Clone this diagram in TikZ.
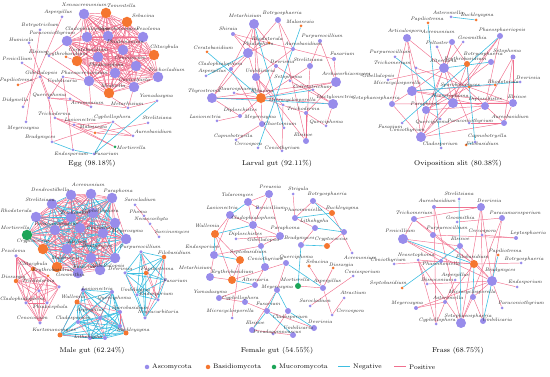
\documentclass[tikz,border=0pt]{standalone}
\usepackage{tikz}

\pgfdeclarelayer{edges}
\pgfsetlayers{edges,main}

\definecolor{asco}{RGB}{152,140,235}
\definecolor{basi}{RGB}{245,118,48}
\definecolor{muco}{RGB}{28,165,88}
\definecolor{negc}{RGB}{62,190,225}
\definecolor{posc}{RGB}{240,112,142}

\tikzset{
    taxon/.style={circle,inner sep=0pt,minimum size=#1},
    taxlab/.style={font=\fontsize{5}{5.5}\selectfont\itshape,inner sep=0pt,text=black!85},
    poslink/.style={posc,line width=0.45pt},
    neglink/.style={negc,line width=0.6pt},
    paneltitle/.style={font=\fontsize{7}{8}\selectfont,inner sep=0pt},
    legtext/.style={font=\fontsize{6.6}{8}\selectfont,anchor=west,inner sep=0pt},
}

\begin{document}
\begin{tikzpicture}[x=1pt,y=-1pt]
    \useasboundingbox (0,0) rectangle (550,377);

    % Egg
    \foreach \n/\c/\d/\x/\y/\lx/\ly/\t in {
        e1/asco/10.5/84/14/84/5/Xenoacremonium,
        e2/basi/10.5/106/13/121/6/Tomentella,
        e3/basi/10.5/127/22/143/16/Sebacina,
        e4/asco/10.5/67/41/52/33/Paraconiothyrium,
        e5/asco/10.5/87/37/87/29/Cladophialophora,
        e6/asco/10.5/108/36/119/29/Sporobolomyces,
        e7/asco/10.5/143/37/148/29/Pezoloma,
        e8/asco/10.5/123/50/125/42/Phialemonium,
        e9/basi/10.5/154/55/164/47/Clitocybula,
        e10/basi/10.5/77/61/88/50/Ceratobasidium,
        e12/asco/10.5/136/66/130/58/Cenococcum,
        e13/asco/10.5/115/73/106/65/Phialocephala,
        e14/asco/10.5/158/77/166/70/Trichocladium,
        e15/asco/10.5/89/81/84/73/Phaeoacremonium,
        e16/asco/10.5/134/87/134/80/Coniochaeta,
        e17/basi/10.5/109/93/113/86/Mrakiella,
        e18/asco/3/62/17/58/12/Aspergillus,
        e19/asco/3/40/30/40/25/Botryotrichum,
        e20/asco/3/29/43/21/40/Humicola,
        e21/asco/3/22/63/17/59/Penicillium,
        e22/asco/3/49/56/38/52/Elsinoe,
        e23/basi/3/66/57/66/54/Erythrobasidium,
        e24/asco/3/40/77/41/73/Gibellulopsis,
        e25/asco/3/63/77/62/81/Umbilicaria,
        e26/basi/3/18/85/16/80/Papiliotrema,
        e27/asco/3/23/107/15/100/Didymella,
        e28/asco/3/49/98/49/95/Querciphoma,
        e30/asco/3/91/107/87/103/Acremonium,
        e31/asco/3/128/108/127/104/Metarhizium,
        e32/asco/3/157/101/156/96/Yamadazyma,
        e33/asco/3/55/118/54/114/Trichoderma,
        e34/asco/3/74/125/80/120/Lasionectria,
        e35/asco/3/113/122/112/117/Cyphellophora,
        e36/asco/3/148/123/157/118/Strelitziana,
        e37/asco/3/26/122/23/128/Meyerozyma,
        e38/basi/3/95/133/93/127/Malassezia,
        e39/asco/3/133/136/153/132/Aureobasidium,
        e40/asco/3/52/142/40/137/Bradymyces,
        e41/muco/3/115/147/131/148/Mortierella,
        e42/asco/3/73/150/71/154/Endosporium,
        e43/asco/3/94/154/106/154/Fusarium}
    {
        \node[taxon=\d pt,fill=\c] (\n) at (\x,\y) {};
        \node[taxlab] (\n-t) at (\lx,\ly) {\t};
    }
    \node[taxon=10.5pt,fill=asco] (e11) at (98,57) {};
    \node[taxon=3pt,fill=asco] (e29) at (70,99) {};
    \node[paneltitle] (egg) at (92,164) {Egg (98.18\%)};

    % Larval gut
    \foreach \n/\c/\d/\x/\y/\lx/\ly/\t in {
        l1/asco/10/254/24/245/16/Metarhizium,
        l2/asco/6/278/20/282/13/Botryosphaeria,
        l3/basi/3/301/26/300/22/Malassezia,
        l4/asco/4/233/34/228/29/Shiraia,
        l5/asco/4/320/41/322/36/Purpureocillium,
        l6/basi/3/269/43/267/39/Rhodotorula,
        l7/asco/4/293/49/303/44/Aureobasidium,
        l8/basi/3/207/52/213/48/Ceratobasidium,
        l9/asco/10/248/53/258/44/Phialophora,
        l10/asco/4/334/59/342/54/Fusarium,
        l11/asco/4/276/66/282/62/Devriesia,
        l12/asco/6/310/66/308/60/Strelitziana,
        l13/asco/4/231/69/220/64/Cladophialophora,
        l14/asco/3/206/76/212/71/Aspergillus,
        l15/asco/8/256/77/260/71/Umbilicaria,
        l16/asco/3/290/81/288/77/Setophoma,
        l17/asco/10/336/82/346/74/Archaeorhizomyces,
        l18/asco/3/313/90/312/87/Colletotrichum,
        l19/asco/10/212/98/204/91/Thyrostroma,
        l20/asco/3/234/93/237/89/Staurosphaeria,
        l21/basi/10/261/98/262/91/Sebacina,
        l22/asco/3/283/105/292/100/Microcyclosporella,
        l23/asco/10/333/104/335/97/Dactylonectria,
        l24/asco/4/240/116/240/110/Diploschistes,
        l25/asco/4/306/113/303/109/Trichoderma,
        l26/asco/3/217/121/205/117/Lasionectria,
        l27/asco/6/262/124/260/117/Meyerozyma,
        l28/asco/3/284/128/280/124/Chaetomium,
        l29/asco/3/326/126/326/122/Querciphoma,
        l30/asco/6/306/141/303/135/Elsinoe,
        l31/asco/3/236/140/233/136/Capnobotryella,
        l32/asco/3/258/148/248/144/Cercospora,
        l33/asco/3/282/151/282/148/Coniothyrium}
    {
        \node[taxon=\d pt,fill=\c] (\n) at (\x,\y) {};
        \node[taxlab] (\n-t) at (\lx,\ly) {\t};
    }
    \node[paneltitle] (larval) at (277,164) {Larval gut (92.11\%)};

    % Oviposition slit
    \foreach \n/\c/\d/\x/\y/\lx/\ly/\t in {
        o1/asco/3/451/17/448/13/Asteromella,
        o2/basi/3/476/20/477/15/Buckleyzyma,
        o3/basi/3/428/23/427/19/Papiliotrema,
        o4/asco/6/500/36/502/30/Phaeosphaeriopsis,
        o5/asco/8/407/38/405/31/Articulospora,
        o6/asco/6/452/42/438/32/Acremonium,
        o7/asco/3/463/42/472/38/Geosmithia,
        o8/asco/3/437/47/437/43/Peltaster,
        o9/asco/3/395/57/390/52/Purpureocillium,
        o10/asco/5/513/57/507/51/Setophoma,
        o11/asco/6/491/62/483/54/Botryosphaeria,
        o12/basi/6/467/64/465/59/Erythrobasidium,
        o13/asco/3/416/68/392/63/Trichomerium,
        o14/asco/10/444/68/443/61/Alternaria,
        o15/asco/3/388/80/378/76/Gibellulopsis,
        o16/asco/3/520/82/528/78/Devriesia,
        o17/asco/10/412/91/397/83/Microcyclosporella,
        o18/basi/3/469/87/460/85/Sporobolomyces,
        o19/basi/3/495/85/503/82/Rhodotorula,
        o20/asco/6/392/104/376/98/Setophaeosphaeria,
        o21/asco/8/426/110/425/104/Paraphoma,
        o22/asco/10/453/103/450/96/Neosetophoma,
        o23/asco/8/485/106/485/99/Diploschistes,
        o24/asco/8/513/103/517/97/Elsinoe,
        o25/asco/3/440/119/432/122/Querciphoma,
        o26/asco/3/469/123/470/121/Paraconiothyrium,
        o27/asco/6/504/123/510/117/Aureobasidium,
        o28/asco/3/402/123/390/127/Fusarium,
        o29/asco/10/421/137/407/130/Coniothyrium,
        o30/asco/3/475/142/487/136/Capnobotryella,
        o31/basi/3/466/145/482/144/Filobasidium,
        o32/asco/3/441/148/440/144/Cladosporium}
    {
        \node[taxon=\d pt,fill=\c] (\n) at (\x,\y) {};
        \node[taxlab] (\n-t) at (\lx,\ly) {\t};
    }
    \node[paneltitle] (ovi) at (458,164) {Oviposition slit (80.38\%)};

    % Male gut
    \foreach \n/\c/\d/\x/\y/\lx/\ly/\t in {
        m1/asco/10.5/71/195/50/190/Dendrostilbella,
        m2/asco/10.5/91/194/88/185/Acremonium,
        m3/asco/10.5/112/198/118/191/Paraphoma,
        m4/asco/10.5/52/204/40/200/Strelitziana,
        m5/asco/10.5/71/217/78/213/Trichomerium,
        m6/asco/10.5/93/213/100/211/Cyphellophora,
        m8/asco/10.5/36/217/16/211/Rhodotorula,
        m9/asco/10.5/55/230/57/224/Paraconiothyrium,
        m11/asco/10.5/103/233/102/228/Coniochaeta,
        m12/asco/10.5/126/239/127/231/Meyerozyma,
        m13/muco/10.5/27/235/15/228/Mortierella,
        m14/basi/10.5/43/249/33/241/Cryptococcus,
        m15/asco/10.5/67/249/77/242/Elsinoe,
        m16/asco/10.5/91/258/97/246/Bradymyces,
        m18/basi/10.5/57/267/65/258/Malassezia,
        m19/asco/10.5/78/273/85/267/Fusarium,
        m20/asco/10.5/100/270/108/266/Gibellulopsis,
        m21/asco/3/135/205/140/200/Sarocladium,
        m22/asco/3/144/216/138/212/Phoma,
        m23/asco/3/150/224/151/219/Neoascochyta,
        m24/asco/3/159/237/172/232/Sarcinomyces,
        m25/asco/3.5/16/256/13/251/Pezoloma,
        m26/basi/4.5/33/269/33/264/Clitocybula,
        m27/basi/3/48/276/53/270/Erythrobasidium,
        m28/basi/4.5/16/281/13/277/Dioszegia,
        m29/asco/3.5/39/291/38/281/Trichoderma,
        m30/asco/3.5/59/287/70/275/Geosmithia,
        m31/asco/3.5/26/303/22/299/Cladophialophora,
        m32/asco/3.5/47/303/50/307/Phialocephala,
        m33/asco/3.5/40/323/32/318/Cenococcum,
        m34/asco/3.5/141/252/140/247/Purpureocillium,
        m35/basi/4.5/164/257/174/253/Filobasidium,
        m36/asco/3.5/125/273/120/269/Devriesia,
        m37/basi/4.5/146/273/157/269/Papiliotrema,
        m38/asco/3.5/165/280/175/281/Fusarium,
        m39/asco/3.5/137/295/135/290/Umbilicaria,
        m40/asco/3.5/158/300/156/294/Endosporium,
        m41/asco/3.5/145/318/158/312/Neocucurbitaria,
        m42/asco/4/83/290/97/289/Lasionectria,
        m43/basi/5/77/302/73/297/Wallemia,
        m44/asco/4/112/292/114/298/Querciphoma,
        m45/asco/4/100/318/90/310/Aspergillus,
        m46/asco/4/120/312/130/308/Sporobasidium,
        m47/asco/4/78/322/73/318/Cladosporium,
        m48/basi/5/60/335/54/330/Kurtzmanomyces,
        m49/basi/5/126/333/133/330/Buckleyzyma,
        m50/asco/4/90/338/88/337/Lithohypha}
    {
        \node[taxon=\d pt,fill=\c] (\n) at (\x,\y) {};
        \node[taxlab] (\n-t) at (\lx,\ly) {\t};
    }
    \node[taxon=10.5pt,fill=asco] (m7) at (115,223) {};
    \node[taxon=10.5pt,fill=asco] (m10) at (80,228) {};
    \node[taxon=10.5pt,fill=asco] (m17) at (115,258) {};
    \node[taxon=4pt,fill=asco] (m51) at (105,338) {};
    \node[taxon=4pt,fill=asco] (m52) at (120,326) {};
    \node[paneltitle] (male) at (92,351) {Male gut (62.24\%)};

    % Female gut
    \foreach \n/\c/\d/\x/\y/\lx/\ly/\t in {
        f1/asco/8/269/194/270/187/Preussia,
        f2/asco/8/248/202/237/195/Talaromyces,
        f3/asco/3/293/194/298/189/Strigula,
        f4/asco/6/313/201/327/194/Botryosphaeria,
        f5/asco/3/258/208/270/208/Penicillium,
        f6/asco/8/230/215/222/208/Lasionectria,
        f7/asco/8/253/225/253/218/Cladophialophora,
        f8/asco/6/295/218/303/210/Phaeomoniella,
        f9/basi/6/332/213/342/208/Buckleyzyma,
        f10/asco/8/280/236/285/228/Paraphoma,
        f11/basi/8/215/234/207/226/Wallemia,
        f12/asco/6/315/228/314/221/Lithohypha,
        f14/asco/3/236/239/245/234/Diploschistes,
        f15/basi/6/327/246/331/239/Cryptococcus,
        f16/asco/6/301/245/299/238/Bradymyces,
        f17/asco/6/261/246/263/240/Gibellulopsis,
        f18/asco/8/214/255/202/247/Endosporium,
        f19/basi/8/240/260/248/252/Septobasidium,
        f20/asco/3/352/253/360/258/Acremonium,
        f21/asco/8/265/267/265/259/Coniothyrium,
        f22/asco/6/286/263/296/257/Querciphoma,
        f23/basi/3.5/309/266/317/262/Sebacina,
        f24/basi/3/333/268/341/265/Dioszegia,
        f25/asco/8/210/277/195/268/Metarhizium,
        f26/basi/8/232/280/232/272/Erythrobasidium,
        f27/asco/3/353/276/362/272/Coniosporium,
        f28/asco/6/255/285/255/280/Alternaria,
        f29/muco/6/298/286/295/280/Mortierella,
        f30/asco/6/323/288/327/281/Aspergillus,
        f31/asco/6/277/290/277/287/Meyerozyma,
        f32/asco/6/219/298/210/292/Yamadazyma,
        f33/asco/6/245/302/240/298/Cyphellophora,
        f34/asco/3/344/298/353/293/Atractium,
        f35/asco/3/310/306/315/301/Sarocladium,
        f36/asco/6/267/311/268/304/Fusarium,
        f37/asco/3/232/318/230/311/Microcyclosporella,
        f38/asco/3/332/315/350/311/Cercospora,
        f39/asco/6/288/311/290/317/Cladosporium,
        f40/asco/6/314/328/320/322/Devriesia,
        f41/asco/6/252/330/255/323/Elsinoe,
        f42/asco/6/293/335/298/328/Umbilicaria,
        f43/asco/3/273/334/277/332/Pseudogymnoascus}
    {
        \node[taxon=\d pt,fill=\c] (\n) at (\x,\y) {};
        \node[taxlab] (\n-t) at (\lx,\ly) {\t};
    }
    \node[taxon=6pt,fill=asco] (f13) at (344,232) {};
    \node[paneltitle] (female) at (277,351) {Female gut (54.55\%)};

    % Frass
    \foreach \n/\c/\d/\x/\y/\lx/\ly/\t in {
        r1/asco/3/459/199/459/194/Strelitziana,
        r2/asco/4/434/207/437/201/Aureobasidium,
        r3/asco/8/481/207/489/201/Devriesia,
        r4/asco/6/414/219/414/213/Trichomerium,
        r5/asco/6/502/218/515/213/Paracamarosporium,
        r6/asco/3/457/222/460/218/Geosmithia,
        r7/asco/10/403/239/400/231/Penicillium,
        r8/asco/6/433/235/447/228/Purpureocillium,
        r9/asco/3/482/235/482/231/Cercospora,
        r10/asco/4/516/238/528/233/Leptosphaeria,
        r11/asco/6/460/246/460/239/Elsinoe,
        r12/asco/3/418/260/416/255/Neosetophoma,
        r13/basi/8/474/264/472/257/Filobasidium,
        r14/basi/3/498/255/505/251/Papiliotrema,
        r15/asco/3/394/264/388/260/Coniothyrium,
        r16/asco/3/521/263/524/259/Botryosphaeria,
        r17/asco/4/441/261/441/264/Phaeomoniella,
        r18/asco/10/492/281/500/270/Bradymyces,
        r19/asco/3/455/280/455/275/Aspergillus,
        r20/basi/3/402/288/388/283/Septobasidium,
        r21/asco/3/427/284/437/280/Dissoconium,
        r22/asco/3/517/287/525/282/Endosporium,
        r23/asco/6/473/297/472/292/Microcyclosporella,
        r24/asco/4/445/302/448/298/Asteromella,
        r25/asco/4/416/308/407/303/Meyerozyma,
        r26/asco/3/502/308/521/303/Paraconiothyrium,
        r27/asco/10/461/323/468/316/Setophaeosphaeria,
        r28/asco/3/436/324/437/320/Cyphellophora,
        r29/asco/6/483/321/497/320/Umbilicaria}
    {
        \node[taxon=\d pt,fill=\c] (\n) at (\x,\y) {};
        \node[taxlab] (\n-t) at (\lx,\ly) {\t};
    }
    \node[paneltitle] (frass) at (458,351) {Frass (68.75\%)};

    \begin{pgfonlayer}{edges}
        % dense modules
        \foreach \i in {1,...,17} {
            \foreach \j in {\i,...,17} {
                \ifnum\i<\j \draw[poslink] (e\i) -- (e\j); \fi
            }
        }
        \foreach \i in {1,...,20} {
            \foreach \j in {\i,...,20} {
                \ifnum\i<\j
                    \pgfmathtruncatemacro\k{mod(3*\i+7*\j,5)}
                    \ifnum\k<2 \draw[neglink] (m\i) -- (m\j);
                    \else \draw[poslink] (m\i) -- (m\j); \fi
                \fi
            }
        }
        \foreach \i in {25,...,33} {
            \foreach \j in {\i,...,33} {
                \ifnum\i<\j \draw[poslink] (m\i) -- (m\j); \fi
            }
        }
        \foreach \i in {34,...,41} {
            \foreach \j in {\i,...,41} {
                \ifnum\i<\j
                    \pgfmathtruncatemacro\k{mod(\i+2*\j,3)}
                    \ifnum\k=0 \draw[poslink] (m\i) -- (m\j);
                    \else \draw[neglink] (m\i) -- (m\j); \fi
                \fi
            }
        }
        \foreach \i in {42,...,52} {
            \foreach \j in {\i,...,52} {
                \ifnum\i<\j
                    \pgfmathtruncatemacro\k{mod(\i+2*\j,3)}
                    \ifnum\k=0 \draw[poslink] (m\i) -- (m\j);
                    \else \draw[neglink] (m\i) -- (m\j); \fi
                \fi
            }
        }
        \foreach \a/\b in {m21/m22,m22/m23,m23/m24}
            \draw[poslink] (\a) -- (\b);

        % positive links
        \foreach \a/\b in {e18/e27,e19/e37,e20/e28,e21/e30,e22/e31,e26/e24,
            e28/e29,e28/e31,e28/e25,e29/e30,e33/e39,e33/e41,e33/e38,e34/e35,
            e35/e39,e36/e38,e40/e35,e42/e25,e40/e28,e24/e33,e25/e15,e30/e15,
            e31/e16,e32/e31,e38/e39,e34/e41,e23/e10,e22/e4,
            l1/l9,l1/l15,l1/l13,l1/l6,l1/l21,l2/l7,l2/l19,l4/l7,l4/l11,l5/l17,
            l5/l12,l6/l9,l7/l10,l7/l15,l9/l13,l9/l21,l10/l17,l11/l23,l11/l21,
            l12/l30,l12/l21,l13/l19,l15/l21,l15/l22,l16/l23,l17/l19,l17/l25,
            l17/l21,l19/l24,l19/l21,l20/l21,l21/l23,l21/l27,l21/l25,l21/l24,
            l22/l33,l24/l26,l25/l29,l25/l30,l27/l31,l27/l33,l29/l23,l15/l30,
            l13/l27,l2/l30,l4/l9,
            o5/o14,o5/o21,o5/o29,o5/o20,o6/o14,o6/o12,o4/o23,o4/o22,o4/o29,
            o10/o24,o10/o23,o11/o21,o12/o22,o12/o18,o14/o17,o14/o21,o14/o22,
            o14/o27,o17/o20,o17/o23,o17/o24,o20/o24,o21/o29,o21/o23,o22/o29,
            o22/o24,o23/o29,o24/o27,o27/o29,o13/o24,o15/o14,o19/o17,o8/o26,
            o25/o21,o26/o27,o7/o14,o18/o21,o20/o29,o6/o29,o10/o27,
            f1/f2,f1/f10,f1/f7,f2/f7,f6/f7,f6/f11,f3/f8,f4/f9,f9/f20,f15/f13,
            f11/f19,f19/f26,f25/f26,f26/f22,f32/f33,f32/f28,f33/f36,f37/f19,
            f35/f27,f38/f30,f30/f23,f41/f42,f31/f41,f29/f30,f14/f10,f17/f18,
            f25/f18,f21/f28,f4/f8,f2/f5,f7/f10,f12/f16,f22/f31,f36/f40,
            f43/f39,f24/f30,f34/f38,f6/f18,f10/f17,f8/f12,f11/f26,f7/f17,
            r2/r3,r3/r4,r3/r18,r3/r27,r4/r13,r4/r7,r5/r18,r5/r27,r6/r5,r7/r11,
            r7/r17,r7/r18,r8/r10,r8/r13,r9/r10,r11/r18,r12/r21,r12/r13,r15/r17,
            r16/r13,r17/r13,r18/r23,r18/r25,r18/r22,r19/r24,r21/r18,r23/r29,
            r23/r27,r24/r25,r24/r28,r26/r18,r27/r12,r29/r3,r2/r27,r13/r24,
            r13/r18,r4/r8,r12/r28,r2/r28}
            \draw[poslink] (\a) -- (\b);

        % negative links
        \foreach \a/\b in {e32/e43,e35/e43,e40/e42,e42/e43,
            l8/l21,l3/l32,l9/l14,l19/l23,l1/l28,l21/l18,
            o1/o2,o3/o32,o9/o22,o4/o28,o12/o30,o16/o17,o30/o31,o11/o14,
            f2/f6,f11/f18,f7/f11,f8/f9,f16/f29,f16/f15,f12/f13,f4/f13,
            f26/f28,f31/f36,f31/f39,f39/f40,f36/f42,f41/f36,f17/f21,f18/f19,
            f22/f30,
            r1/r27,r7/r13,r20/r11,r14/r29,r13/r23}
            \draw[neglink] (\a) -- (\b);
    \end{pgfonlayer}

    % legend
    \node[taxon=4.5pt,fill=asco] (lga) at (147,367) {};
    \node[legtext] (lga-t) at (152,367) {Ascomycota};
    \node[taxon=4.5pt,fill=basi] (lgb) at (208,367) {};
    \node[legtext] (lgb-t) at (213,367) {Basidiomycota};
    \node[taxon=4.5pt,fill=muco] (lgm) at (274,367) {};
    \node[legtext] (lgm-t) at (279,367) {Mucoromycota};
    \coordinate (lgn1) at (338,367);
    \coordinate (lgn2) at (350,367);
    \draw[neglink,line width=1pt] (lgn1) -- (lgn2);
    \node[legtext] (lgn-t) at (353,367) {Negative};
    \coordinate (lgp1) at (394,367);
    \coordinate (lgp2) at (406,367);
    \draw[poslink,line width=1pt] (lgp1) -- (lgp2);
    \node[legtext] (lgp-t) at (409,367) {Positive};
\end{tikzpicture}
\end{document}
